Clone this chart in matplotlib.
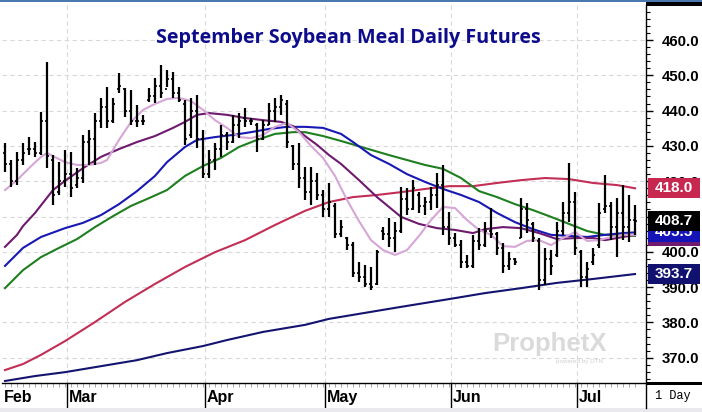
import matplotlib
matplotlib.use("Agg")
import matplotlib.pyplot as plt
import matplotlib.transforms as mtransforms
from matplotlib.patches import Rectangle
import numpy as np

# ---------------- data ----------------
month_labels = ["Feb", "Mar", "Apr", "May", "Jun", "Jul"]
month_start_bar = [0, 11, 34, 54, 75, 96]

highs = [430.8, 426.0, 428.3, 430.8, 432.5, 431.1, 439.6, 453.8, 427.4, 425.4,
         428.8, 428.3, 423.7, 433.1, 434.5, 439.3, 443.6, 446.7, 443.6, 450.7,
         446.4, 445.8, 441.6, 438.8, 446.4, 449.2, 452.9, 451.5, 450.9, 446.7,
         443.0, 443.6, 444.4, 434.5, 428.8, 430.8, 435.9, 433.9, 438.8, 439.3,
         440.7, 437.9, 436.5, 437.3, 442.2, 443.6, 444.4, 443.0, 430.3, 430.8,
         424.0, 424.0, 422.3, 417.5, 419.5, 413.8, 409.0, 404.2, 402.8, 397.1,
         396.3, 395.7, 400.5, 407.0, 409.6, 408.4, 418.4, 418.1, 420.3, 416.9,
         415.5, 418.4, 422.3, 424.6, 411.3, 405.3, 403.3, 399.1, 404.8, 406.7,
         408.4, 412.4, 405.6, 402.5, 399.9, 398.2, 415.2, 413.8, 408.4, 403.9,
         401.1, 400.5, 408.4, 414.1, 425.2, 416.9, 400.5, 397.1, 401.1, 413.8,
         421.8, 414.1, 415.2, 418.9, 416.1, 413.3]
lows = [422.6, 418.4, 418.9, 424.6, 427.4, 426.9, 427.4, 423.7, 413.3, 416.1,
        418.4, 415.5, 418.1, 419.5, 424.6, 424.6, 435.1, 435.1, 436.5, 445.0,
        438.2, 435.9, 435.4, 435.9, 442.4, 442.2, 443.6, 446.7, 443.6, 442.4,
        430.3, 432.2, 429.4, 420.9, 420.9, 423.2, 426.9, 428.8, 430.8, 432.2,
        435.4, 435.9, 428.3, 431.7, 435.9, 436.8, 438.8, 429.4, 423.2, 418.1,
        414.7, 413.3, 414.7, 409.9, 409.9, 403.9, 404.2, 400.5, 392.9, 391.4,
        390.0, 389.2, 390.6, 403.3, 401.4, 399.9, 405.3, 410.4, 411.8, 411.0,
        410.4, 411.8, 412.4, 404.8, 401.9, 401.4, 395.4, 395.4, 395.4, 400.5,
        401.4, 403.9, 399.1, 394.0, 394.8, 396.3, 403.9, 405.3, 402.8, 389.2,
        390.6, 393.4, 398.5, 404.8, 408.4, 399.1, 390.0, 390.0, 396.3, 401.1,
        411.0, 403.3, 398.5, 403.3, 402.8, 404.8]
opens = [428, 425, 420, 426, 429, 429, 428, 437, 426, 417,
         420, 422, 419, 421, 431, 432, 437, 441, 437, 446,
         446, 440, 437, 437, 443, 444, 447, 446, 449, 445,
         442, 433, 440, 432, 422, 426, 429, 433, 431, 436,
         438, 437, 436, 432, 436, 440, 441, 442, 430, 425,
         421, 417, 420, 416, 412, 413, 405, 404, 402, 394,
         393, 391, 391, 406, 405, 404, 406, 415, 412, 416,
         413, 414, 416, 419, 407, 404, 402, 397, 396, 403,
         402, 406, 405, 401, 396, 398, 404, 412, 408, 403,
         392, 398, 399, 406, 411, 414, 400, 393, 397, 402,
         412, 413, 407, 411, 407, 409]
closes = [425, 420, 426, 428, 429, 428, 437, 427, 416, 420,
          422, 418, 421, 431, 432, 437, 441, 437, 442, 447,
          440, 437, 437, 437, 444, 447, 445, 449, 445, 443,
          432, 440, 432, 422, 426, 429, 433, 431, 436, 437,
          437, 437, 432, 436, 440, 441, 443, 431, 425, 421,
          417, 420, 416, 412, 414, 405, 407, 402, 394, 393,
          391, 390, 400, 405, 404, 406, 415, 412, 418, 413,
          414, 416, 419, 407, 404, 402, 397, 396, 403, 402,
          406, 405, 401, 396, 398, 397, 412, 409, 404, 392,
          398, 396, 406, 411, 414, 401, 393, 395, 399, 411,
          413, 407, 411, 407, 409, 408.7]

# moving averages: (bar index, value)
ma_pink_idx = [0, 2, 4, 6, 7, 8, 10, 12, 14, 16, 17, 19, 21, 23, 25, 27, 29, 31, 33, 35,
               37, 39, 41, 43, 45, 47, 49, 51, 53, 55, 57, 59, 61, 63, 65, 67, 69, 71, 73,
               75, 77, 79, 81, 83, 85, 87, 89, 91, 93, 95, 97, 99, 101, 103, 105]
ma_pink_val = [417.5, 420.3, 423.7, 426.9, 428.0, 427.1, 425.4, 424.6, 424.6, 425.2, 426.0,
               431.7, 436.8, 440.2, 441.9, 443.3, 443.6, 442.7, 440.2, 437.3, 435.1, 432.5,
               432.2, 433.1, 435.4, 436.5, 433.9, 430.0, 426.6, 421.5, 414.7, 408.7, 403.3,
               400.5, 399.1, 400.5, 404.5, 409.0, 412.7, 412.4, 409.0, 406.2, 404.8, 401.6,
               401.4, 403.1, 403.3, 401.9, 403.9, 405.6, 403.1, 403.3, 404.2, 404.8, 404.8]

ma_purple_idx = [0, 2, 3, 5, 8, 10, 13, 16, 19, 22, 25, 28, 30, 32, 34, 37, 40, 43, 46, 48,
                 50, 52, 54, 56, 59, 62, 64, 66, 69, 72, 75, 78, 80, 83, 86, 89, 92, 95, 98,
                 100, 103, 105]
ma_purple_val = [401.4, 404.8, 407.3, 411.0, 417.5, 420.1, 423.7, 426.9, 429.1, 431.1, 432.8,
                 435.1, 436.8, 438.8, 439.3, 438.8, 437.9, 437.3, 436.8, 435.6, 432.8, 430.3,
                 427.4, 424.9, 420.3, 415.5, 412.7, 409.9, 407.9, 406.7, 406.2, 405.3, 406.4,
                 407.0, 406.7, 405.3, 403.6, 403.9, 403.9, 403.3, 404.2, 404.8]

ma_blue_idx = [0, 3, 6, 10, 13, 16, 19, 22, 25, 27, 30, 32, 35, 38, 41, 44, 47, 50, 53, 56,
               58, 61, 64, 67, 70, 73, 76, 79, 82, 85, 88, 91, 94, 97, 100, 103, 105]
ma_blue_val = [396.0, 401.1, 404.2, 406.7, 408.2, 410.4, 413.5, 417.2, 421.5, 425.4, 429.7,
               431.7, 432.5, 433.1, 433.9, 434.8, 435.4, 435.4, 435.1, 433.4, 431.1, 427.4,
               424.9, 422.0, 419.8, 417.8, 416.1, 414.1, 411.0, 408.4, 406.4, 404.8, 404.5,
               404.2, 404.8, 405.3, 405.5]

ma_green_idx = [0, 3, 6, 9, 12, 15, 18, 21, 24, 27, 30, 33, 36, 39, 42, 45, 48, 50, 53, 56,
                60, 64, 67, 70, 73, 76, 79, 82, 85, 88, 91, 94, 97, 100, 103, 105]
ma_green_val = [389.7, 394.8, 398.5, 401.1, 403.6, 407.0, 410.1, 413.0, 415.2, 417.5, 421.5,
                424.3, 426.6, 429.7, 431.7, 433.4, 433.9, 433.9, 432.8, 431.4, 429.4, 427.4,
                426.0, 424.6, 423.5, 420.9, 417.2, 415.5, 413.5, 411.8, 409.9, 407.9, 405.9,
                404.8, 404.8, 404.5]

ma_red_idx = [0, 3, 6, 10, 15, 20, 25, 30, 35, 40, 45, 50, 54, 58, 62, 66, 70, 74, 78, 82,
              86, 90, 94, 98, 102, 105]
ma_red_val = [366.5, 368.2, 370.8, 374.7, 380.1, 385.8, 390.9, 395.7, 399.9, 403.3, 407.6,
              411.6, 414.1, 415.5, 416.1, 416.9, 417.8, 418.6, 418.6, 419.5, 420.3, 420.9,
              420.6, 419.5, 418.9, 418.0]

ma_navy_idx = [0, 5, 10, 16, 22, 27, 33, 37, 43, 50, 54, 60, 66, 74, 80, 86, 92, 98, 102, 105]
ma_navy_val = [363.4, 364.8, 365.9, 367.6, 369.3, 371.3, 373.3, 375.0, 377.3, 379.3, 381.0,
               382.7, 384.4, 386.6, 388.3, 389.7, 391.2, 392.3, 393.1, 393.7]

label_values = [404.4, 405.5, 408.7, 418.0, 393.7]
label_colors = ["#6e1a6e", "#1414b8", "#000000", "#c8284f", "#111170"]

title = "September Soybean Meal Daily Futures"

# ---------------- figure ----------------
W, H = 702, 412
fig = plt.figure(figsize=(W / 100, H / 100), dpi=100)
fig.patch.set_facecolor("white")

def px(x, y):
    return x / W, 1 - y / H

ax_l, ax_r, ax_t, ax_b = 2, 646, 5, 383
ax = fig.add_axes([ax_l / W, 1 - ax_b / H, (ax_r - ax_l) / W, (ax_b - ax_t) / H])
ax.set_facecolor("white")

n = len(highs)
x = np.arange(n)
ax.set_xlim(-0.5, 106.83)
ax.set_ylim(362.83, 469.92)

# grid
for v in range(370, 461, 10):
    ax.axhline(v, color="#d9d9d9", lw=0.8, ls=(0, (4, 3)), zorder=0)
for s in month_start_bar[1:]:
    ax.axvline(s - 0.72, color="#d9d9d9", lw=0.8, ls=(0, (4, 3)), zorder=0)

# moving averages
ax.plot(ma_navy_idx, ma_navy_val, color="#141470", lw=1.5, zorder=2)
ax.plot(ma_red_idx, ma_red_val, color="#c22e55", lw=1.5, zorder=2)
ax.plot(ma_green_idx, ma_green_val, color="#1f7f1f", lw=1.5, zorder=2)
ax.plot(ma_blue_idx, ma_blue_val, color="#1818b4", lw=1.5, zorder=2)
ax.plot(ma_purple_idx, ma_purple_val, color="#6e1a6e", lw=1.5, zorder=2)
ax.plot(ma_pink_idx, ma_pink_val, color="#d6a6d6", lw=1.5, zorder=2)

# OHLC bars
ax.vlines(x, lows, highs, color="black", lw=1.6, zorder=3)
ax.hlines(opens, x - 0.38, x, color="black", lw=1.2, zorder=3)
ax.hlines(closes, x, x + 0.38, color="black", lw=1.2, zorder=3)

# spines
for sp in ["top", "left"]:
    ax.spines[sp].set_visible(False)
ax.spines["right"].set_color("black")
ax.spines["right"].set_linewidth(1.0)
ax.spines["bottom"].set_color("black")
ax.spines["bottom"].set_linewidth(1.0)

# y axis on right
ax.yaxis.tick_right()
ax.set_yticks(range(370, 461, 10))
ax.set_yticks(np.arange(364, 470, 2), minor=True)
ax.set_yticklabels([f"{v:.1f}" for v in range(370, 461, 10)],
                   fontfamily="Liberation Sans", fontweight="bold", fontsize=10.8)
ax.tick_params(axis="y", which="major", length=5, width=1, pad=6, colors="black")
ax.tick_params(axis="y", which="minor", length=3, width=0.8, colors="black")

# x axis: minor ticks at each bar, no major labels
ax.set_xticks([])
ax.set_xticks(x, minor=True)
ax.tick_params(axis="x", which="minor", length=3, width=0.6, colors="#9a9a9a")

# month separators and labels below the axis
trans = mtransforms.blended_transform_factory(ax.transData, ax.transAxes)
strip = 25 / (ax_b - ax_t)
for lab, s in zip(month_labels, month_start_bar):
    xs = s - 0.72 if s > 0 else -0.5
    if s > 0:
        ax.plot([xs, xs], [0, -strip], color="black", lw=1.0, transform=trans, clip_on=False)
    ax.text(xs + 0.3, -0.039, lab, transform=trans, ha="left", va="center",
            fontfamily="Liberation Sans", fontweight="bold", fontsize=11.5, color="black")

# value labels on right
for val, col, z in zip(label_values, label_colors, range(len(label_values))):
    tr = mtransforms.blended_transform_factory(ax.transAxes, ax.transData)
    hgt = 20 / 3.53
    x0 = (648 - ax_l) / (ax_r - ax_l)
    x1 = (700 - ax_l) / (ax_r - ax_l)
    ax.add_patch(Rectangle((x0, val - hgt / 2), x1 - x0, hgt, transform=tr,
                           facecolor=col, edgecolor="none", clip_on=False, zorder=10 + 2 * z))
    ax.text((x0 + x1) / 2, val, f"{val:.1f}", transform=tr, ha="center", va="center",
            color="white", fontfamily="Liberation Sans", fontweight="bold", fontsize=11,
            zorder=11 + 2 * z, clip_on=False)

# title
fig.text(*px(348, 38), title, ha="center", va="center", color="#0d0d8c",
         fontfamily="Open Sans", fontweight="bold", fontsize=14.2)

# watermark
fig.text(*px(550, 344), "ProphetX", ha="center", va="center", color="#dadada",
         fontfamily="Liberation Sans", fontweight="bold", fontsize=18.5)
fig.text(*px(580, 362), "powered by DTN", ha="center", va="center", color="#d0d0d0",
         fontfamily="Liberation Sans", fontsize=4.5)

# interval label
fig.text(*px(673, 396), "1 Day", ha="center", va="center", color="black",
         fontfamily="Liberation Mono", fontsize=8.6)

# frame decorations
fig.add_artist(Rectangle(px(0, 1.5), 1, 1.5 / H, transform=fig.transFigure,
                         facecolor="#4a78b0", edgecolor="none"))
fig.add_artist(Rectangle(px(646, 6), 56 / W, 4 / H, transform=fig.transFigure,
                         facecolor="black", edgecolor="none"))
fig.add_artist(Rectangle(px(646, 385), 56 / W, 3.5 / H, transform=fig.transFigure,
                         facecolor="black", edgecolor="none"))
fig.add_artist(plt.Line2D([646 / W, 646 / W], [1 - 383 / H, 1 - 408 / H],
                          transform=fig.transFigure, color="black", lw=1.0))
fig.add_artist(Rectangle(px(0, 412), 1, 4 / H, transform=fig.transFigure,
                         facecolor="#e9e9ee", edgecolor="none"))

fig.savefig("out.png", dpi=100)
